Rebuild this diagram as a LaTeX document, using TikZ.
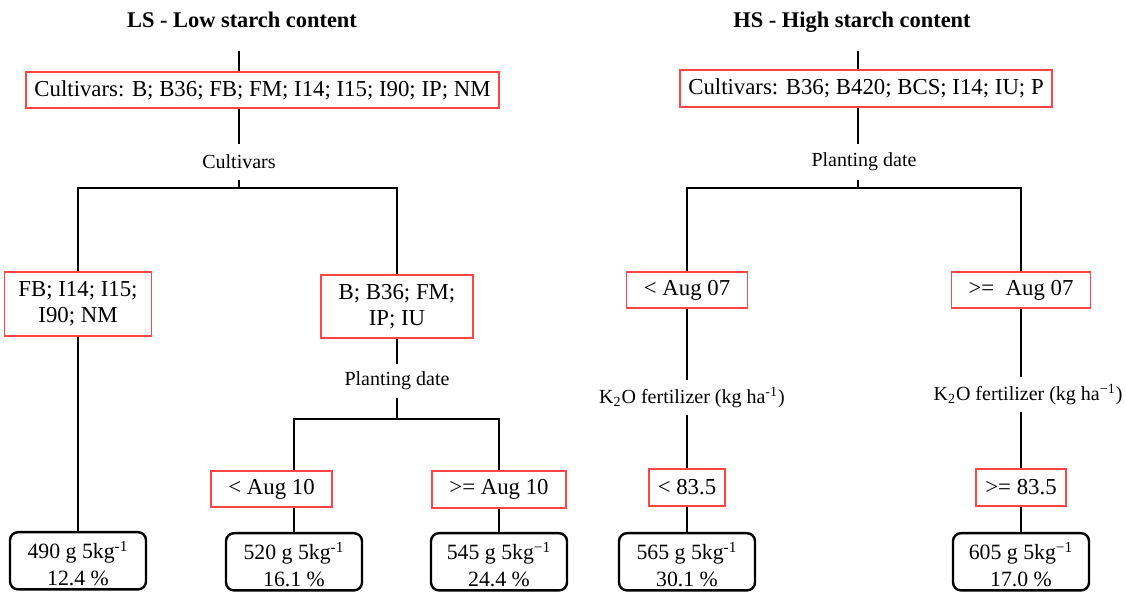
\documentclass[tikz,border=0pt]{standalone}
\usepackage{fontspec}
\setmainfont{Liberation Serif}
\definecolor{critred}{RGB}{255,70,70}

\tikzset{
  crit/.style={draw=critred, line width=0.75pt, inner sep=0pt, align=center,
    font=\fontsize{11.4}{12.8}\selectfont},
  leaf/.style={draw, line width=1.2pt, rounded corners=4pt, anchor=north,
    inner sep=0pt, minimum width=68pt, align=center,
    text height=26.8pt, text depth=1.8pt,
    font=\fontsize{10.9}{13.4}\selectfont},
  split/.style={inner sep=0pt, minimum height=17.5pt, font=\fontsize{10}{12}\selectfont},
  head/.style={anchor=base, font=\fontsize{11.2}{13}\selectfont\bfseries},
  branch/.style={line width=1pt}
}

\begin{document}
\begin{tikzpicture}[x=0.5pt, y=-0.5pt]
\useasboundingbox (0,0) rectangle (1126,592);

% LS tree
\node[head] (titleLS) at (242,27.5) {LS - Low starch content};
\coordinate (topLS) at (239,51);
\node[crit, minimum width=236.5pt, minimum height=18pt] (rootLS) at (262.5,90)
  {Cultivars: B; B36; FB; FM; I14; I15; I90; IP; NM};
\node[split, minimum height=18pt] (cutLS) at (239,162) {Cultivars};
\node[crit, minimum width=73.5pt, minimum height=32pt] (grpA) at (78,304) {FB; I14; I15;\\I90; NM};
\node[crit, minimum width=76pt, minimum height=31.5pt] (grpB) at (397,306.5) {B; B36; FM;\\IP; IU};
\node[split, minimum height=17pt] (dateLS) at (397,381) {Planting date};
\node[crit, minimum width=60.5pt, minimum height=18pt] (earlyLS) at (271.5,489) {< Aug 10};
\node[crit, minimum width=67pt, minimum height=18.5pt] (lateLS) at (499,489.5) {>= Aug 10};
\node[leaf] (yA) at (78,531) {490 g 5kg\textsuperscript{-1}\\12.4 \%};
\node[leaf] (yB) at (294,532) {520 g 5kg\textsuperscript{-1}\\16.1 \%};
\node[leaf] (yC) at (499,532) {545 g 5kg\textsuperscript{−1}\\24.4 \%};

\draw[branch] (topLS) -- (topLS |- rootLS.north);
\draw[branch] (topLS |- rootLS.south) -- (cutLS.north);
\draw[branch] (cutLS.south) -- ++(0,8) -| (grpA.north);
\draw[branch] (cutLS.south) -- ++(0,8) -| (grpB.north);
\draw[branch] (grpA.south) -- (yA.north);
\draw[branch] (grpB.south) -- (dateLS.north);
\draw[branch] (dateLS.south) -- ++(0,21) -| (yB.north |- earlyLS.north);
\draw[branch] (dateLS.south) -- ++(0,21) -| (lateLS.north);
\draw[branch] (yB.north |- earlyLS.south) -- (yB.north);
\draw[branch] (lateLS.south) -- (yC.north);

% HS tree
\node[head] (titleHS) at (852,27.5) {HS - High starch content};
\coordinate (topHS) at (858,51);
\node[crit, minimum width=186pt, minimum height=18.5pt] (rootHS) at (866,88.5)
  {Cultivars: B36; B420; BCS; I14; IU; P};
\node[split, minimum height=18pt] (dateHS) at (864,162) {Planting date};
\node[crit, minimum width=60.5pt, minimum height=18pt] (earlyHS) at (687,290) {< Aug 07};
\node[crit, minimum width=69.5pt, minimum height=18pt] (lateHS) at (1021,290) {>= \ Aug 07};
\node[split] (potA) at (692,397.5) {K\textsubscript{2}O fertilizer (kg ha\textsuperscript{-1})};
\node[split] (potB) at (1028,394.5) {K\textsubscript{2}O fertilizer (kg ha\textsuperscript{−1})};
\node[crit, minimum width=38pt, minimum height=18.5pt] (lowK) at (687,487.5) {< 83.5};
\node[crit, minimum width=45pt, minimum height=18.5pt] (highK) at (1021,487.5) {>= 83.5};
\node[leaf] (yD) at (687,532) {565 g 5kg\textsuperscript{-1}\\30.1 \%};
\node[leaf] (yE) at (1021,532) {605 g 5kg\textsuperscript{−1}\\17.0 \%};

\draw[branch] (topHS) -- (topHS |- rootHS.north);
\draw[branch] (topHS |- rootHS.south) -- (topHS |- dateHS.north);
\draw[branch] (topHS |- dateHS.south) -- ++(0,8) -| (earlyHS.north);
\draw[branch] (topHS |- dateHS.south) -- ++(0,8) -| (lateHS.north);
\draw[branch] (earlyHS.south) -- (earlyHS.south |- potA.north);
\draw[branch] (earlyHS.south |- potA.south) -- (lowK.north);
\draw[branch] (lateHS.south) -- (lateHS.south |- potB.north);
\draw[branch] (lateHS.south |- potB.south) -- (highK.north);
\draw[branch] (lowK.south) -- (yD.north);
\draw[branch] (highK.south) -- (yE.north);
\end{tikzpicture}
\end{document}
